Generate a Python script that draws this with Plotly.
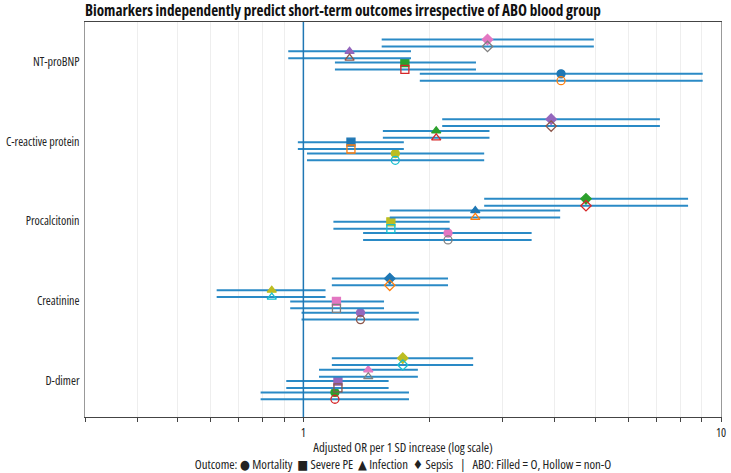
import plotly.graph_objects as go

biomarkers = ["NT-proBNP", "C-reactive protein", "Procalcitonin", "Creatinine", "D-dimer"]
outcomes = ["Mortality", "Severe PE", "Infection", "Sepsis"]
abo_groups = ["O", "non-O"]

mortality_or = [4.14, 1.66, 2.22, 1.37, 1.19]
mortality_lo = [1.90, 1.02, 1.39, 0.99, 0.79]
mortality_hi = [9.04, 2.71, 3.52, 1.89, 1.79]
severe_pe_or = [1.75, 1.30, 1.62, 1.20, 1.21]
severe_pe_lo = [1.19, 0.97, 1.18, 0.93, 0.91]
severe_pe_hi = [2.59, 1.74, 2.24, 1.56, 1.60]
infection_or = [1.29, 2.08, 2.58, 0.84, 1.43]
infection_lo = [0.92, 1.55, 1.61, 0.62, 1.09]
infection_hi = [1.81, 2.79, 4.12, 1.13, 1.88]
sepsis_or = [2.76, 3.92, 4.75, 1.61, 1.73]
sepsis_lo = [1.54, 2.15, 2.71, 1.17, 1.17]
sepsis_hi = [4.96, 7.14, 8.34, 2.22, 2.55]

x_tick_values = [0.3, 0.4, 0.5, 0.6, 0.7, 0.8, 0.9, 1, 2, 3, 4, 5, 6, 7, 8, 9, 10]
x_tick_labels = ["" if v not in (1, 10) else str(v) for v in x_tick_values]

estimates = {
    "Mortality": (mortality_or, mortality_lo, mortality_hi),
    "Severe PE": (severe_pe_or, severe_pe_lo, severe_pe_hi),
    "Infection": (infection_or, infection_lo, infection_hi),
    "Sepsis": (sepsis_or, sepsis_lo, sepsis_hi),
}

palette = ["#1f77b4", "#ff7f0e", "#2ca02c", "#d62728", "#9467bd",
           "#8c564b", "#e377c2", "#7f7f7f", "#bcbd22", "#17becf"]
symbols = {"Mortality": "circle", "Severe PE": "square",
           "Infection": "triangle-up", "Sepsis": "diamond"}
outcome_offset = {"Mortality": 0.194, "Severe PE": 0.052,
                  "Infection": -0.089, "Sepsis": -0.236}
abo_offset = {"O": -0.043, "non-O": 0.043}

FONT = "Open Sans, DejaVu Sans, sans-serif"
ci_color = "#2a8ac6"

fig = go.Figure()
k = 0
for bi, bm in enumerate(biomarkers):
    for oc in outcomes:
        orv, lo, hi = estimates[oc]
        for ab in abo_groups:
            col = palette[k % 10]
            k += 1
            sym = symbols[oc] if ab == "O" else symbols[oc] + "-open"
            fig.add_trace(go.Scatter(
                x=[orv[bi]], y=[bi + outcome_offset[oc] + abo_offset[ab]],
                mode="markers",
                marker=dict(symbol=sym, size=8, color=col,
                            line=dict(width=1.3, color=col)),
                error_x=dict(type="data", symmetric=False,
                             array=[hi[bi] - orv[bi]],
                             arrayminus=[orv[bi] - lo[bi]],
                             width=0, thickness=2, color=ci_color),
                showlegend=False,
                name=f"{bm} – {oc} ({ab})",
            ))

fig.add_shape(type="line", xref="x", yref="paper", x0=1, x1=1, y0=0, y1=1,
              line=dict(color="#1f77b4", width=1.5))

fig.update_layout(
    width=731, height=473,
    margin=dict(l=85, r=10, t=22, b=56, autoexpand=False),
    paper_bgcolor="white", plot_bgcolor="white",
    font=dict(family=FONT, size=12, color="#222"),
    title=dict(text="<b>Biomarkers independently predict short-term outcomes irrespective of ABO blood group</b>",
               x=85 / 731, xanchor="left", y=1 - 11 / 473, yanchor="middle",
               font=dict(family=FONT, size=15.2, color="#111")),
    xaxis=dict(type="log", range=[-0.5229, 1.0], automargin=False,
               tickvals=x_tick_values, ticktext=x_tick_labels,
               ticks="outside", ticklen=4, tickcolor="#444",
               showgrid=True, gridcolor="#eeeeee", gridwidth=1,
               showline=True, linecolor="#444", linewidth=1.2, mirror=True,
               zeroline=False,
               title=dict(text="Adjusted OR per 1 SD increase (log scale)<br>"
                               "Outcome: ● Mortality  ■ Severe PE  ▲ Infection  ♦ Sepsis   |   ABO: Filled = O, Hollow = non-O",
                          font=dict(size=12.8), standoff=4)),
    yaxis=dict(range=[4.46, -0.5], tickvals=list(range(len(biomarkers))),
               ticktext=biomarkers, showgrid=False, zeroline=False, automargin=False,
               showline=True, linecolor="#999", linewidth=1.2, mirror=True,
               ticks="", ticklabelstandoff=2),
)

post = ("var s=document.createElement('style');"
        "s.textContent='.main-svg text{font-stretch:75% !important;}';"
        "document.head.appendChild(s);")
fig.write_html("out.html", post_script=post)
